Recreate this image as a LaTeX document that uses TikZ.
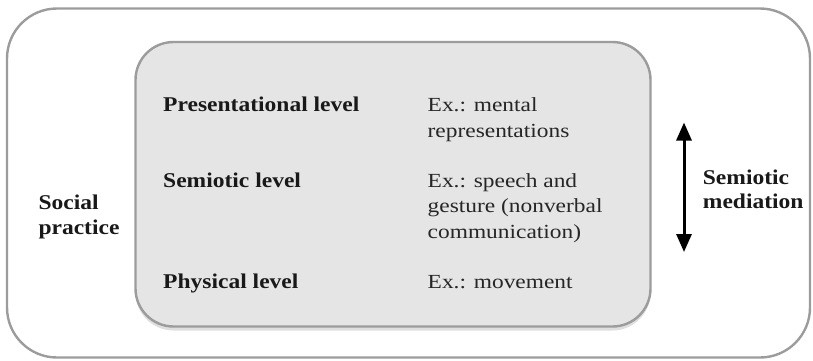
\documentclass[tikz,border=0pt]{standalone}
\usepackage{fontspec}
\setmainfont{Liberation Serif}[FakeStretch=1.17]
\newfontfamily\boldfam{Liberation Serif}[FakeStretch=1.12]
\usetikzlibrary{shadows,arrows.meta}
\definecolor{boxline}{HTML}{9C9C9C}
\definecolor{innerfill}{HTML}{E5E5E5}
\tikzset{
  outerbox/.style={draw=boxline, line width=2.4pt, fill=white, rounded corners=50pt},
  innerbox/.style={draw=boxline, line width=2.4pt, fill=innerfill, rounded corners=38pt,
    drop shadow={opacity=0.25, shadow xshift=0pt, shadow yshift=-4pt}},
  lvl/.style={anchor=base west, inner sep=0pt, font=\boldfam\bfseries\fontsize{21}{25}\selectfont, text=black!90},
  ex/.style={anchor=base west, inner sep=0pt, align=left, font=\fontsize{20}{25.3}\selectfont, text=black!85},
  side/.style={anchor=base west, inner sep=0pt, align=left, font=\boldfam\bfseries\fontsize{21}{24.5}\selectfont, text=black!90},
}
\begin{document}
\begin{tikzpicture}[x=1pt,y=-1pt]
\useasboundingbox (0,0) rectangle (813,360);
\draw[outerbox] (7,8.5) rectangle (810,357.5);
\draw[innerbox] (135.5,42) rectangle (650.5,326.5);
\node[lvl] (pres) at (163,111.7) {Presentational level};
\node[lvl] (semi) at (163,187.5) {Semiotic level};
\node[lvl] (phys) at (163,288.3) {Physical level};
\node[ex] (expres) at (427.5,137.2) {Ex.: mental\\representations};
\node[ex] (exsemi) at (427.5,238) {Ex.: speech and\\gesture (nonverbal\\communication)};
\node[ex] (exphys) at (427.5,288.3) {Ex.: movement};
\node[side] (social) at (38.3,234) {Social\\practice};
\node[side] (med) at (702.7,208.5) {Semiotic\\mediation};
\coordinate (atop) at (684,122.5);
\coordinate (abot) at (684,252);
\draw[line width=3pt, {Triangle[width=15pt,length=18pt]}-{Triangle[width=15pt,length=18pt]}] (atop) -- (abot);
\end{tikzpicture}
\end{document}
